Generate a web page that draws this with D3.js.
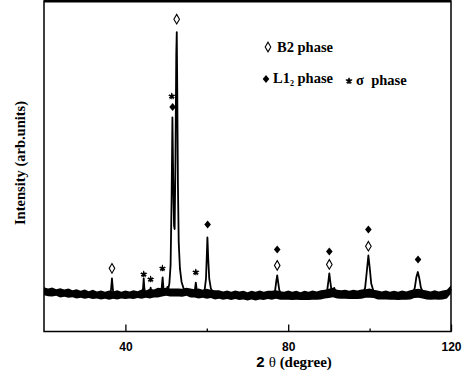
<!DOCTYPE html>
<html>
<head>
<meta charset="utf-8">
<script src="https://cdn.jsdelivr.net/npm/d3@7"></script>
<style>
  html, body { margin: 0; padding: 0; background: #fff; }
  svg { display: block; }
</style>
</head>
<body>
<svg id="chart" width="474" height="380"></svg>
<script>
// ---- data ----
const specTheta = [20,22,24,26,28,30,32,34,36.0,36.4,36.6,36.7,36.8,37.0,37.4,39,41,43,
  44.1,44.35,44.5,44.65,44.9,45.8,46.05,46.2,46.35,46.6,48.5,48.9,49.15,49.35,49.7,50.1,50.35,50.55,
  50.8,51.1,51.35,51.55,51.75,51.95,52.1,52.3,52.5,52.62,52.75,52.9,53.1,53.4,53.8,54.3,55.0,
  56.5,57.05,57.3,57.55,58.0,59.0,59.5,59.8,60.0,60.15,60.35,60.6,61.0,61.6,64,68,72,
  76.3,76.8,77.1,77.3,77.5,77.8,78.3,82,86,89.0,89.6,89.9,90.1,90.3,90.6,91.0,91.3,91.6,92.5,95,
  98.3,98.9,99.3,99.7,100.05,100.4,100.9,101.6,105,108,110.5,111.1,111.5,111.85,112.2,112.6,113.2,
  115,118,119.5,120];
const specIntensity = [12.2,11.9,11.7,11.6,11.4,11.3,11.2,11.0,10.9,11.8,14.5,16.1,14.5,11.8,10.9,11.0,11.1,11.2,
  11.4,13.2,16.1,13.2,11.4,11.4,12.3,13.3,12.3,11.4,11.8,13.0,16.4,13.0,12.2,12.5,13.5,13.0,
  14.5,20,40,64.8,46,32,31,52,84,90.6,72,45,27,19,15,13,12.1,
  11.8,12.4,14.8,12.4,11.7,11.7,12.8,16,23,28.5,22,16,13,11.6,11.1,11.0,10.9,
  11.0,12.5,15.5,17.0,15.2,12.6,11.1,10.9,11.0,11.3,12.6,15.5,17.6,15.5,12.8,12.2,13.2,12.0,11.3,11.1,
  11.4,13.2,18,23.0,19,14.5,12.4,11.3,10.9,10.9,11.2,13.2,16.5,18.0,16.2,13.3,11.6,
  11.0,11.0,11.4,12.8];

// noise band envelope of the baseline, one value per degree from 20 to 120
const bandStart = 20;
const bandTop = [13.4,13.0,13.3,12.8,13.1,12.7,13.0,12.5,12.8,12.3,
  12.7,12.2,12.6,12.1,12.4,12.0,12.4,12.1,12.5,12.0,
  12.4,12.1,12.5,12.2,12.7,12.4,12.9,12.7,13.2,13.1,
  13.2,13.0,13.0,13.0,12.9,13.2,13.0,12.8,13.0,12.6,
  12.9,12.6,12.5,12.5,12.1,12.4,12.0,12.4,12.1,12.3,
  11.9,12.3,12.0,12.4,12.0,12.3,12.3,12.5,12.2,12.0,
  12.4,12.0,12.3,11.9,12.3,12.0,12.4,12.1,12.5,12.6,
  12.9,13.2,12.6,12.5,12.6,12.3,12.6,12.4,12.7,12.8,
  13.0,12.6,12.4,12.1,12.4,12.0,12.3,12.0,12.4,12.1,
  12.5,12.8,12.9,12.6,12.4,12.1,12.5,12.1,12.4,12.6,14.0];
const bandBottom = [11.0,10.7,10.6,10.8,10.3,10.5,10.2,10.4,10.0,10.2,
  9.9,10.1,9.8,10.0,9.7,9.9,9.6,9.9,9.7,10.0,
  9.8,10.0,9.8,10.1,9.9,10.2,10.0,10.3,10.3,10.6,
  10.8,10.6,10.6,10.6,10.5,10.8,10.3,10.3,10.0,10.2,
  9.9,10.1,9.7,9.9,9.6,9.8,9.5,9.8,9.5,9.7,
  9.4,9.7,9.4,9.7,9.5,9.8,9.6,9.9,9.6,9.6,
  9.6,9.5,9.6,9.5,9.5,9.5,9.6,9.6,9.7,10.0,
  10.1,10.4,10.0,9.9,9.9,9.8,9.8,9.8,9.9,10.2,
  10.2,10.1,9.7,9.7,9.7,9.6,9.6,9.5,9.6,9.6,
  9.7,10.1,10.2,10.0,9.7,9.6,9.7,9.6,9.7,10.0,11.5];

// phase markers above the peaks
const markerTheta = [36.7,52.6,44.5,46.2,49.1,51.4,51.6,57.3,60.2,77.3,77.3,90.1,90.1,99.7,99.7,111.9];
const markerPhase = ["B2","B2","sigma","sigma","sigma","sigma","L12","sigma","L12","L12","B2","L12","B2","L12","B2","L12"];
const markerLevel = [19.1,94.5,17.3,15.8,19.1,71.2,67.9,17.9,32.4,24.8,20.0,24.2,20.3,30.9,25.8,21.8];

const majorTicks = [40, 80, 120];
const minorTicks = [60, 100];

// ---- drawing ----
const W = 474, H = 380;
const mLeft = 44, mRight = 451, mTop = 1, mBottom = 331.5;
const svg = d3.select("#chart");

const x = d3.scaleLinear().domain([20, 120]).range([mLeft, mRight]);
const y = d3.scaleLinear().domain([0, 100]).range([mBottom, mTop]);

// noise band
const bandData = bandTop.map((t, i) => ({ th: bandStart + i, t, b: bandBottom[i] }));
svg.append("path")
  .datum(bandData)
  .attr("fill", "#000")
  .attr("d", d3.area().x(d => x(d.th)).y0(d => y(d.b)).y1(d => y(d.t)));

// spectrum line
const spec = specTheta.map((t, i) => ({ th: t, v: specIntensity[i] }));
svg.append("path")
  .datum(spec)
  .attr("fill", "none")
  .attr("stroke", "#000")
  .attr("stroke-width", 1.8)
  .attr("stroke-linejoin", "round")
  .attr("d", d3.line().x(d => x(d.th)).y(d => y(d.v)));

// axes
const axisMajor = d3.axisBottom(x).tickValues(majorTicks).tickSizeInner(-7).tickSizeOuter(0).tickPadding(11).tickFormat(d3.format("d"));
const gx = svg.append("g").attr("transform", `translate(0,${mBottom})`).call(axisMajor);
gx.select(".domain").remove();
gx.selectAll("line").attr("stroke", "#000").attr("stroke-width", 1.3);
gx.selectAll("text").attr("font-family", "Liberation Sans, Arial, sans-serif")
  .attr("font-weight", "bold").attr("font-size", 12).attr("fill", "#000");
const axisMinor = d3.axisBottom(x).tickValues(minorTicks).tickSizeInner(-3).tickSizeOuter(0).tickFormat("");
const gm = svg.append("g").attr("transform", `translate(0,${mBottom})`).call(axisMinor);
gm.select(".domain").remove();
gm.selectAll("line").attr("stroke", "#000").attr("stroke-width", 1.3);

// frame
svg.append("rect").attr("x", mLeft).attr("y", mTop).attr("width", mRight - mLeft).attr("height", mBottom - mTop)
  .attr("fill", "none").attr("stroke", "#000").attr("stroke-width", 1.5);
svg.append("line").attr("x1", mLeft).attr("x2", mRight).attr("y1", 1).attr("y2", 1)
  .attr("stroke", "#000").attr("stroke-width", 3);

// marker shapes
function openDiamond(g) {
  g.append("path").attr("d", "M0,-4.8L2.8,0L0,4.8L-2.8,0Z")
    .attr("fill", "#fff").attr("stroke", "#000").attr("stroke-width", 1.1);
}
function filledDiamond(g) {
  g.append("path").attr("d", "M0,-4L3.3,0L0,4L-3.3,0Z").attr("fill", "#000");
}
function star(g) {
  g.append("path").attr("d", d3.symbol().type(d3.symbolStar).size(18)()).attr("fill", "#000");
  g.append("path").attr("d", "M0,-3V3M-2.6,-1.5L2.6,1.5M-2.6,1.5L2.6,-1.5")
    .attr("stroke", "#000").attr("stroke-width", 1.1);
}
const drawers = { B2: openDiamond, L12: filledDiamond, sigma: star };

markerTheta.forEach((t, i) => {
  const g = svg.append("g").attr("transform", `translate(${x(t)},${y(markerLevel[i])})`);
  drawers[markerPhase[i]](g);
});

// legend
const serif = "Liberation Serif, Times New Roman, serif";
const lg1 = svg.append("g").attr("transform", "translate(268,47)"); openDiamond(lg1);
svg.append("text").attr("x", 277).attr("y", 52).attr("font-family", serif).attr("font-weight", "bold")
  .attr("font-size", 14.5).text("B2 phase");
const lg2 = svg.append("g").attr("transform", "translate(266,79)"); filledDiamond(lg2);
const t2 = svg.append("text").attr("x", 273).attr("y", 83).attr("font-family", serif).attr("font-weight", "bold")
  .attr("font-size", 14.5);
t2.append("tspan").text("L1");
t2.append("tspan").attr("font-size", 8).attr("dy", 3).text("2");
t2.append("tspan").attr("dy", -3).text(" phase");
const lg3 = svg.append("g").attr("transform", "translate(349,81)"); star(lg3);
svg.append("text").attr("x", 356).attr("y", 85).attr("font-family", serif).attr("font-weight", "bold")
  .attr("font-size", 14.5).attr("xml:space", "preserve").text("σ  phase");

// axis titles
const xt = svg.append("text").attr("x", 294).attr("y", 367).attr("text-anchor", "middle")
  .attr("font-family", serif).attr("font-weight", "bold").attr("font-size", 15);
xt.append("tspan").attr("font-family", "Liberation Sans, Arial, sans-serif").text("2 ");
xt.append("tspan").attr("font-weight", "normal").text("θ ");
xt.append("tspan").text("(degree)");

svg.append("text").attr("transform", "translate(25,163) rotate(-90)").attr("text-anchor", "middle")
  .attr("font-family", serif).attr("font-weight", "bold").attr("font-size", 14.5)
  .text("Intensity (arb.units)");
</script>
</body>
</html>
